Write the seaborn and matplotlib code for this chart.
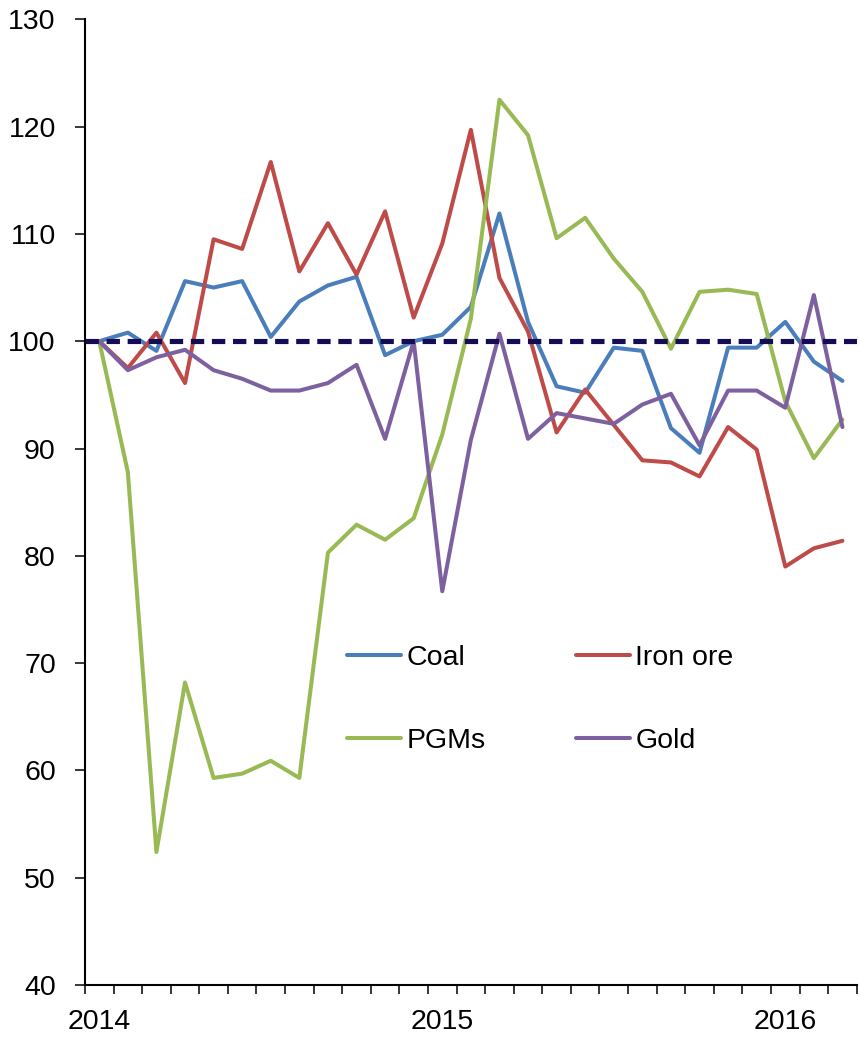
import pandas as pd
import numpy as np
import matplotlib
matplotlib.use("Agg")
import matplotlib.pyplot as plt
import seaborn as sns

# meses: jan/2014 .. mar/2016 (indice base 100 em jan/2014)
meses = list(range(27))
rotulos_anos = ['2014', '2015', '2016']
posicoes_anos = [0, 12, 24]

coal = [100, 100.8, 99.1, 105.6, 105.0, 105.6, 100.4, 103.7, 105.2, 106.0, 98.7, 100.0, 100.6,
        103.2, 111.9, 101.8, 95.8, 95.2, 99.4, 99.1, 91.9, 89.6, 99.4, 99.4, 101.8, 98.1, 96.3]
iron_ore = [100, 97.5, 100.8, 96.1, 109.5, 108.6, 116.7, 106.5, 111.0, 106.2, 112.1, 102.2, 109.1,
            119.7, 105.9, 100.9, 91.5, 95.5, 92.2, 88.9, 88.7, 87.4, 92.0, 89.9, 79.0, 80.7, 81.4]
pgms = [100, 87.8, 52.4, 68.2, 59.3, 59.7, 60.9, 59.3, 80.3, 82.9, 81.5, 83.5, 91.3,
        102.1, 122.5, 119.2, 109.6, 111.5, 107.7, 104.6, 99.3, 104.6, 104.8, 104.4, 94.4, 89.1, 92.7]
gold = [100, 97.3, 98.5, 99.2, 97.3, 96.5, 95.4, 95.4, 96.1, 97.8, 90.9, 100.0, 76.7,
        90.8, 100.7, 90.9, 93.3, 92.8, 92.3, 94.1, 95.1, 90.3, 95.4, 95.4, 93.8, 104.3, 92.0]

series = ['Coal', 'Iron ore', 'PGMs', 'Gold']
cores = {'Coal': '#4A7EBB', 'Iron ore': '#BE4B48', 'PGMs': '#98B954', 'Gold': '#7D60A0'}

df = pd.DataFrame({
    'mes': meses * 4,
    'valor': coal + iron_ore + pgms + gold,
    'serie': np.repeat(series, len(meses)),
})

sns.set_style("white")
plt.rcParams['font.family'] = ['Liberation Sans', 'DejaVu Sans']
plt.rcParams['text.color'] = 'black'

fig = plt.figure(figsize=(8.6, 10.37), dpi=100)
ax = fig.add_axes([0.0988, 0.0501, 0.8974, 0.9313])

sns.lineplot(data=df, x='mes', y='valor', hue='serie', hue_order=series,
             palette=cores, linewidth=2.9, ax=ax, legend=False)

ax.axhline(100, color='#140C55', linewidth=3.7, linestyle=(0, (2.6, 1.5)), zorder=5)

ax.set_xlim(-0.5, 26.5)
ax.set_ylim(40, 130)
ax.set_yticks(np.arange(40, 131, 10))
ax.set_xticks(np.arange(-0.5, 27, 1))
ax.set_xticklabels([])
ax.set_xticks(posicoes_anos, minor=True)
ax.set_xticklabels(rotulos_anos, minor=True)
ax.set_xlabel('')
ax.set_ylabel('')

ax.tick_params(axis='y', which='major', direction='out', length=7, width=1.1, pad=14,
               labelsize=20.5, left=True, color='black', labelcolor='black')
ax.tick_params(axis='x', which='major', direction='out', length=6.5, width=1.1, bottom=True, color='black')
ax.tick_params(axis='x', which='minor', length=0, pad=17, labelsize=20.5, labelcolor='black')

for lado in ['top', 'right']:
    ax.spines[lado].set_visible(False)
for lado in ['left', 'bottom']:
    ax.spines[lado].set_linewidth(1.5)
    ax.spines[lado].set_color('black')

# legenda em duas colunas, ordem por linha
handles = [plt.Line2D([], [], color=cores[s], linewidth=2.9, solid_capstyle='round') for s in series]
ordem = [0, 2, 1, 3]
leg = ax.legend([handles[i] for i in ordem], [series[i] for i in ordem], ncol=2, frameon=False,
                loc='upper left', bbox_to_anchor=(347 / 860, 1 - 645 / 1037), bbox_transform=fig.transFigure,
                fontsize=20.5, handlelength=1.9, handletextpad=0.2, columnspacing=3.15,
                labelspacing=2.0, borderpad=0, borderaxespad=0)
for t in leg.get_texts():
    t.set_color('black')

plt.savefig('out.png', dpi=100)
